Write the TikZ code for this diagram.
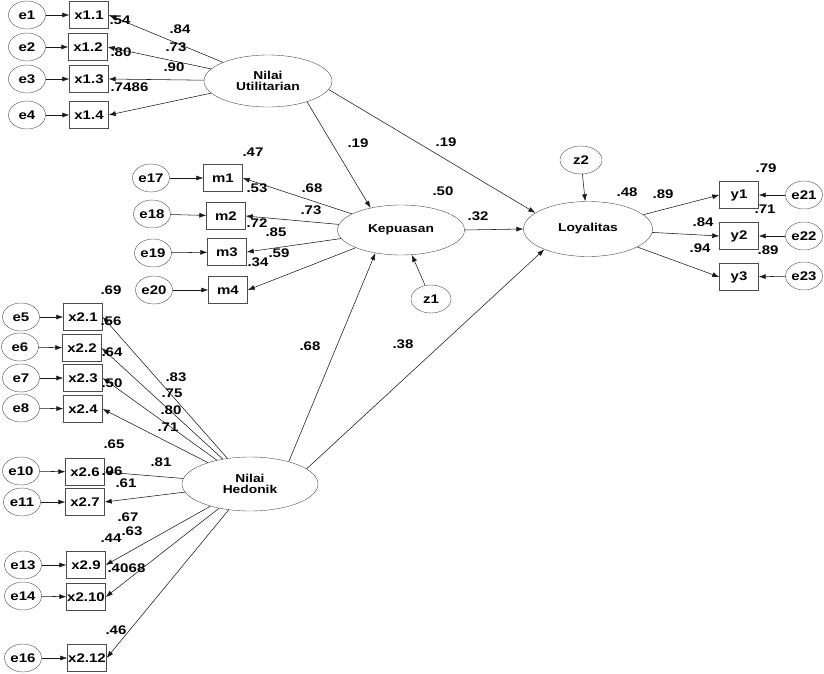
\documentclass[tikz,border=0pt]{standalone}
\usepackage{fontspec}
\setmainfont[FakeStretch=1.2]{Liberation Sans}
\usetikzlibrary{shapes.geometric,arrows.meta}
\tikzset{
  obsbox/.style={draw=black!70, rectangle, minimum width=39pt, minimum height=27pt, inner sep=0pt, font=\fontsize{12.5}{12}\selectfont\bfseries},
  errcirc/.style={draw=black!70, ellipse, minimum width=37pt, minimum height=28pt, inner sep=0pt, font=\fontsize{12.5}{12}\selectfont\bfseries},
  latvar/.style={draw=black!70, ellipse, minimum width=128pt, minimum height=52pt, inner sep=0pt, align=center, font=\fontsize{11.5}{11}\selectfont\bfseries},
  regarrow/.style={draw=black!90, line width=0.55pt, -{Latex[length=7pt,width=5pt]}},
  coef/.style={inner sep=0pt, font=\fontsize{12.5}{12}\selectfont\bfseries}
}
\begin{document}
\begin{tikzpicture}[x=1pt, y=-1pt]
  \useasboundingbox (0,0) rectangle (824,674);

  % Latent variables
  \node[latvar] (ut) at (268,81) {Nilai\\Utilitarian};
  \node[latvar, minimum width=127pt, minimum height=50pt] (kep) at (401,230) {Kepuasan};
  \node[latvar, minimum width=129pt, minimum height=55pt] (loy) at (588,229) {Loyalitas};
  \node[latvar, minimum width=136pt, minimum height=54pt] (hed) at (250,484) {Nilai\\Hedonik};

  % Disturbances
  \node[errcirc, minimum width=40pt, minimum height=28pt] (z1) at (431,299) {z1};
  \node[errcirc, minimum width=42pt, minimum height=28pt] (z2) at (581,160) {z2};

  % Nilai Utilitarian indicators
  \node[obsbox] (x11) at (89,15) {x1.1};
  \node[obsbox] (x12) at (88,47) {x1.2};
  \node[obsbox] (x13) at (89,79) {x1.3};
  \node[obsbox] (x14) at (89,115) {x1.4};
  \node[errcirc] (e1) at (27,15) {e1};
  \node[errcirc] (e2) at (27,47) {e2};
  \node[errcirc] (e3) at (27,79) {e3};
  \node[errcirc] (e4) at (27,115) {e4};

  % Kepuasan indicators
  \node[obsbox] (m1) at (223,178) {m1};
  \node[obsbox] (m2) at (226,216) {m2};
  \node[obsbox] (m3) at (227,252) {m3};
  \node[obsbox] (m4) at (228,290) {m4};
  \node[errcirc] (e17) at (151,178) {e17};
  \node[errcirc] (e18) at (152,214) {e18};
  \node[errcirc] (e19) at (153,253) {e19};
  \node[errcirc] (e20) at (154,290) {e20};

  % Loyalitas indicators
  \node[obsbox] (y1) at (739,195) {y1};
  \node[obsbox] (y2) at (739,236) {y2};
  \node[obsbox] (y3) at (739,277) {y3};
  \node[errcirc] (e21) at (804,195) {e21};
  \node[errcirc] (e22) at (804,236) {e22};
  \node[errcirc] (e23) at (804,276) {e23};

  % Nilai Hedonik indicators
  \node[obsbox] (x21) at (83,317) {x2.1};
  \node[obsbox] (x22) at (82,348) {x2.2};
  \node[obsbox] (x23) at (83,378) {x2.3};
  \node[obsbox] (x24) at (83,409) {x2.4};
  \node[obsbox] (x26) at (85,472) {x2.6};
  \node[obsbox] (x27) at (85,502) {x2.7};
  \node[obsbox] (x29) at (86,565) {x2.9};
  \node[obsbox] (x210) at (86,597) {x2.10};
  \node[obsbox] (x212) at (87,658) {x2.12};
  \node[errcirc] (e5) at (21,317) {e5};
  \node[errcirc] (e6) at (20,347) {e6};
  \node[errcirc] (e7) at (21,378) {e7};
  \node[errcirc] (e8) at (21,408) {e8};
  \node[errcirc] (e10) at (21,471) {e10};
  \node[errcirc] (e11) at (22,502) {e11};
  \node[errcirc] (e13) at (23,565) {e13};
  \node[errcirc] (e14) at (23,596) {e14};
  \node[errcirc] (e16) at (23,658) {e16};

  % Error arrows
  \foreach \e/\b in {e1/x11, e2/x12, e3/x13, e4/x14, e17/m1, e18/m2, e19/m3, e20/m4,
                     e21/y1, e22/y2, e23/y3, e5/x21, e6/x22, e7/x23, e8/x24,
                     e10/x26, e11/x27, e13/x29, e14/x210, e16/x212}
    \draw[regarrow] (\e) -- (\b);
  \draw[regarrow] (z1) -- (kep);
  \draw[regarrow] (z2) -- (loy);

  % Loadings
  \foreach \b in {x11, x12, x13, x14}
    \draw[regarrow] (ut) -- (\b.east);
  \foreach \b in {m1, m2, m3, m4}
    \draw[regarrow] (kep) -- (\b.east);
  \foreach \b in {y1, y2, y3}
    \draw[regarrow] (loy) -- (\b.west);
  \foreach \b in {x21, x22, x23, x24, x26, x27, x29, x210, x212}
    \draw[regarrow] (hed) -- (\b.east);

  % Structural paths
  \draw[regarrow] (ut.332) -- (kep.144);
  \draw[regarrow] (ut.352) -- (loy.163);
  \draw[regarrow] (kep.east) -- (loy.west);
  \draw[regarrow] (hed.30) -- (kep.222);
  \draw[regarrow] (hed.15) -- (loy.205);

  % Estimates
  \node[coef] at (120,20) {.54};
  \node[coef] at (180,29) {.84};
  \node[coef] at (176,47) {.73};
  \node[coef] at (121,52) {.80};
  \node[coef] at (174,67) {.90};
  \node[coef] at (121,87) {.74};
  \node[coef] at (138,87) {.86};

  \node[coef] at (253,152) {.47};
  \node[coef] at (257,188) {.53};
  \node[coef] at (312,188) {.68};
  \node[coef] at (311,210) {.73};
  \node[coef] at (257,223) {.72};
  \node[coef] at (276,232) {.85};
  \node[coef] at (279,253) {.59};
  \node[coef] at (258,262) {.34};
  \node[coef] at (443,191) {.50};
  \node[coef] at (478,216) {.32};
  \node[coef] at (358,143) {.19};
  \node[coef] at (446,142) {.19};

  \node[coef] at (766,168) {.79};
  \node[coef] at (627,192) {.48};
  \node[coef] at (663,194) {.89};
  \node[coef] at (765,209) {.71};
  \node[coef] at (703,222) {.84};
  \node[coef] at (700,248) {.94};
  \node[coef] at (768,250) {.89};

  \node[coef] at (111,290) {.69};
  \node[coef] at (111,321) {.56};
  \node[coef] at (112,352) {.64};
  \node[coef] at (112,383) {.50};
  \node[coef] at (176,377) {.83};
  \node[coef] at (172,393) {.75};
  \node[coef] at (171,410) {.80};
  \node[coef] at (168,427) {.71};
  \node[coef] at (114,444) {.65};
  \node[coef] at (161,462) {.81};
  \node[coef] at (112,471) {.06};
  \node[coef] at (126,483) {.61};
  \node[coef] at (128,517) {.67};
  \node[coef] at (111,538) {.44};
  \node[coef] at (132,531) {.63};
  \node[coef] at (118,568) {.40};
  \node[coef] at (135,568) {.68};
  \node[coef] at (116,630) {.46};
  \node[coef] at (310,346) {.68};
  \node[coef] at (403,344) {.38};
\end{tikzpicture}
\end{document}
